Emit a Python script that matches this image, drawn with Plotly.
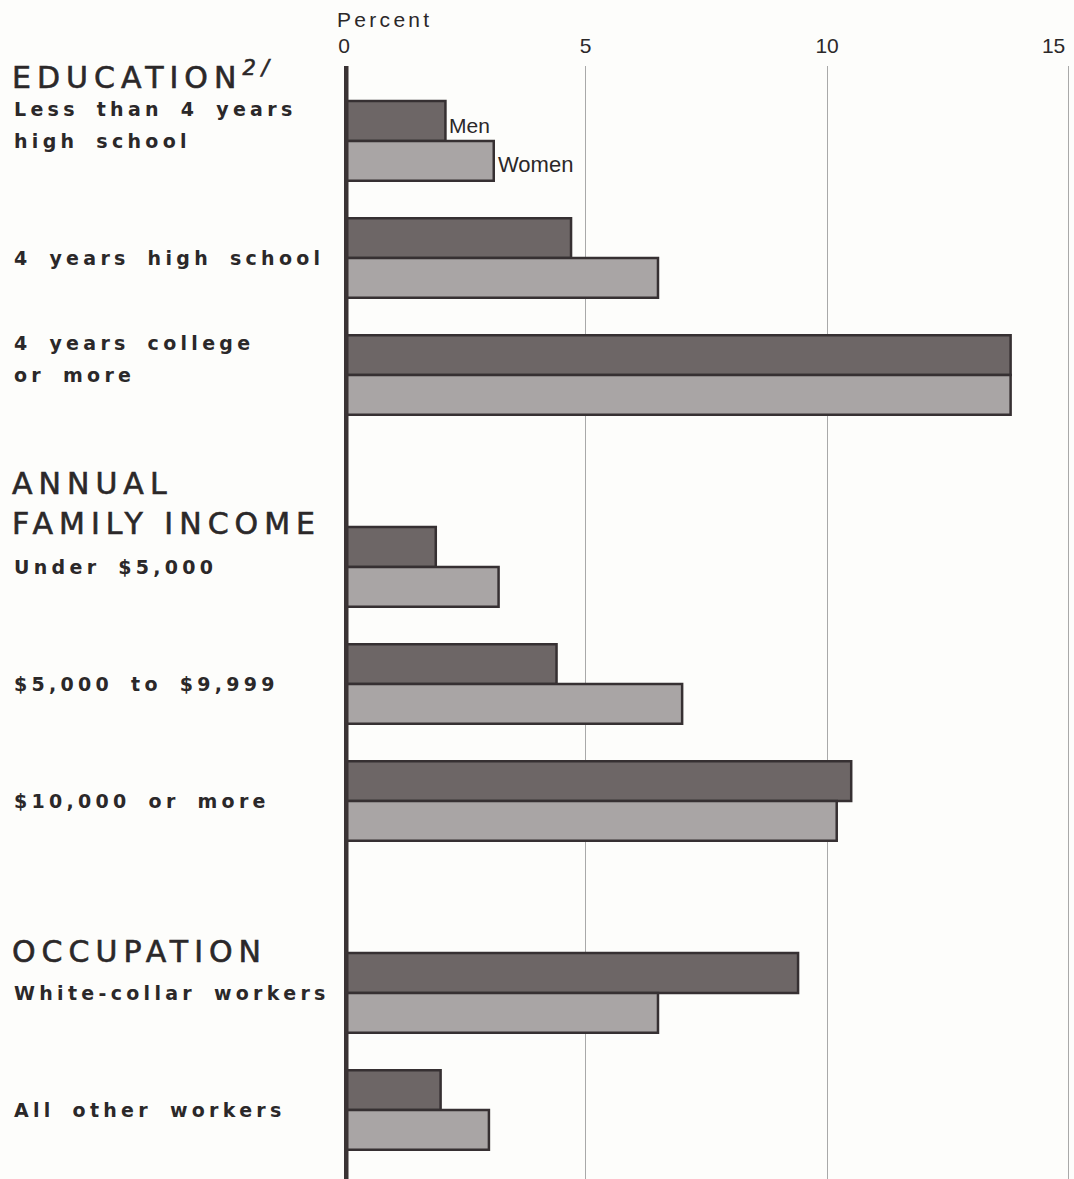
import plotly.graph_objects as go

# ---- data ----
groups = ["EDUCATION", "ANNUAL<br>FAMILY INCOME", "OCCUPATION"]
categories = [
    "Less than 4 years<br>high school",
    "4 years high school",
    "4 years college<br>or more",
    "Under $5,000",
    "$5,000 to $9,999",
    "$10,000 or more",
    "White-collar workers",
    "All other workers",
]
category_group = [0, 0, 0, 1, 1, 1, 2, 2]
men = [2.1, 4.7, 13.8, 1.9, 4.4, 10.5, 9.4, 2.0]
women = [3.1, 6.5, 13.8, 3.2, 7.0, 10.2, 6.5, 3.0]
x_ticks = [0, 5, 10, 15]
x_title = "Percent"
series_names = ["Men", "Women"]

# ---- layout helpers ----
GROUP_GAP = 0.64
pos = [i + g * GROUP_GAP for i, g in enumerate(category_group)]
BAR_W = 0.34

MEN_COLOR = "#6d6666"
WOMEN_COLOR = "#a9a5a5"
EDGE = "#363032"
TEXT = "#2b2829"

fig = go.Figure()
fig.add_trace(go.Bar(
    y=pos, x=men, orientation="h", name=series_names[0],
    width=BAR_W, offset=-BAR_W,
    marker=dict(color=MEN_COLOR, line=dict(color=EDGE, width=2.5)),
    showlegend=False, hoverinfo="x",
))
fig.add_trace(go.Bar(
    y=pos, x=women, orientation="h", name=series_names[1],
    width=BAR_W, offset=0,
    marker=dict(color=WOMEN_COLOR, line=dict(color=EDGE, width=2.5)),
    showlegend=False, hoverinfo="x",
))

annotations = []
# group headings (one annotation per line)
heading_shift = [65, 83, 41]
heading_line = 40
first_idx = [category_group.index(g) for g in range(len(groups))]
for g, name in enumerate(groups):
    for k, line in enumerate(name.split("<br>")):
        txt = line + ("<sup><i>2/</i></sup>" if g == 0 else "")
        annotations.append(dict(
            text=txt, xref="paper", yref="y", x=0, xshift=-334,
            y=pos[first_idx[g]], yshift=heading_shift[g] - k * heading_line,
            xanchor="left", yanchor="middle", align="left", showarrow=False,
            font=dict(family="DejaVu Sans", size=30, color=TEXT),
        ))
# category labels (one annotation per line)
for i, c in enumerate(categories):
    lines = c.split("<br>")
    shifts = [32, 0] if len(lines) == 2 else [0]
    for line, sh in zip(lines, shifts):
        annotations.append(dict(
            text="<b>" + line + "</b>",
            xref="paper", yref="y", x=0, xshift=-332,
            y=pos[i], yshift=sh,
            xanchor="left", yanchor="middle", align="left", showarrow=False,
            font=dict(family="DejaVu Sans", size=19, color=TEXT),
        ))
# series labels on the first pair
annotations.append(dict(
    text=series_names[0], x=men[0], y=pos[0] - BAR_W / 2, xref="x", yref="y",
    xanchor="left", yanchor="middle", showarrow=False, xshift=2, yshift=-4,
    font=dict(family="Liberation Sans Narrow, Liberation Sans", size=21, color=TEXT),
))
annotations.append(dict(
    text=series_names[1], x=women[0], y=pos[0] + BAR_W / 2, xref="x", yref="y",
    xanchor="left", yanchor="middle", showarrow=False, xshift=2, yshift=-4,
    font=dict(family="Liberation Sans Narrow, Liberation Sans", size=22, color=TEXT),
))
# axis title
annotations.append(dict(
    text=x_title, xref="x", yref="paper", x=0, y=1, xshift=-9, yshift=47,
    xanchor="left", yanchor="middle", align="left", showarrow=False,
    font=dict(family="Liberation Sans", size=21, color=TEXT),
))

fig.update_layout(
    width=1074, height=1179,
    margin=dict(l=344, r=3, t=66, b=0, autoexpand=False),
    paper_bgcolor="#fdfdfb", plot_bgcolor="#fdfdfb",
    barmode="overlay",
    annotations=annotations,
    shapes=[dict(type="line", xref="x", yref="paper", x0=0, x1=0, y0=0, y1=1,
                 line=dict(color="#3a3334", width=9), layer="above")],
)
fig.update_xaxes(
    side="top", range=[0, 15.05], tickvals=x_ticks,
    ticktext=[str(v) for v in x_ticks], automargin=False,
    showgrid=True, gridcolor="#a9a9a9", gridwidth=1, zeroline=False,
    ticks="", showline=False, ticklabelstandoff=8, ticklabeloverflow="allow",
    tickfont=dict(family="Liberation Sans", size=21, color=TEXT),
)
fig.update_yaxes(
    range=[8.87, -0.64], showgrid=False, zeroline=False, showticklabels=False,
    ticks="", showline=False, automargin=False,
)

post = """
document.body.style.margin = '0';
document.body.style.background = '#fdfdfb';
var t = document.querySelectorAll('.annotation-text');
t.forEach(function(e){
  var fs = parseFloat(window.getComputedStyle(e).fontSize);
  if (Math.abs(fs-19) < 0.5) { e.style.letterSpacing = '4.3px'; e.style.wordSpacing = '7px'; }
  else if (Math.abs(fs-30) < 0.5) { e.style.letterSpacing = '6px'; e.style.stroke = '#2b2829'; e.style.strokeWidth = '0.6px'; }
  else if (e.textContent === 'Percent') { e.style.letterSpacing = '3.3px'; }
});
document.querySelectorAll('.xtick text').forEach(function(e){
  if (e.textContent === '15') { e.setAttribute('x', parseFloat(e.getAttribute('x') || 0) - 15); }
});
"""
fig.write_html("out.html", post_script=post, config={"displayModeBar": False})
